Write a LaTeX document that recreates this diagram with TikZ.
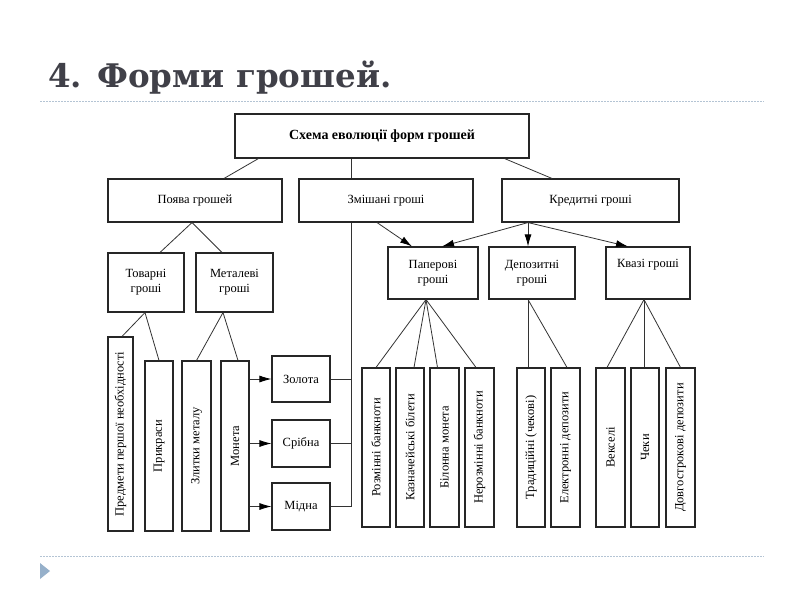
\documentclass[tikz,border=0pt]{standalone}
\usepackage{fontspec}
\setmainfont{Liberation Serif}
\newfontfamily\titlefont{DejaVu Serif}
\usepackage{tikz}
\usetikzlibrary{arrows.meta}
\definecolor{titlegray}{RGB}{64,64,72}
\definecolor{rulecolor}{RGB}{180,196,212}
\definecolor{bulletcolor}{RGB}{150,176,202}
\newcommand{\vlabel}[1]{\rotatebox{90}{#1}}
\tikzset{
  box/.style={draw=black!85, line width=1.1pt, fill=white, inner sep=1pt, align=center,
    font=\fontsize{12.5}{15}\selectfont},
  vbox/.style={box, minimum height=159pt},
  link/.style={draw=black!80, line width=0.8pt},
  arr/.style={link, -{Latex[length=12pt,width=7pt,black]}}
}

\begin{document}
\begin{tikzpicture}[x=1pt, y=-1pt]
    \fill[white] (0,0) rectangle (800,600);
    \useasboundingbox (0,0) rectangle (800,600);
    % slide title and rules
    \node[anchor=base west, inner sep=0pt, text=titlegray,
      font=\titlefont\bfseries\fontsize{32.5}{38}\selectfont] (title) at (48,87) {4. Форми грошей.};
    \draw[rulecolor, line width=1pt, dash pattern=on 1.5pt off 1.5pt] (40,101) -- (764,101);
    \draw[rulecolor, line width=1pt, dash pattern=on 1.5pt off 1.5pt] (40,556) -- (764,556);
    \fill[bulletcolor] (40,563) -- (50,571) -- (40,579) -- cycle;

    % upper levels
    \node[box, font=\bfseries\fontsize{14}{16}\selectfont, minimum width=294pt, minimum height=44pt] (schema) at (382,136) {Схема еволюції форм грошей};
    \node[box, minimum width=174pt, minimum height=43pt] (pojava) at (195,200.5) {Поява грошей};
    \node[box, minimum width=174pt, minimum height=43pt] (zmish) at (386,200.5) {Змішані гроші};
    \node[box, minimum width=177pt, minimum height=43pt] (kred) at (590.5,200.5) {Кредитні гроші};
    \node[box, minimum width=76pt, minimum height=59pt] (tovarni) at (146,282.5) {Товарні\\гроші};
    \node[box, minimum width=77pt, minimum height=59pt] (metalevi) at (234.5,282.5) {Металеві\\гроші};
    \node[box, minimum width=90pt, minimum height=52pt] (paperovi) at (433,273) {Паперові\\гроші};
    \node[box, minimum width=86pt, minimum height=52pt] (depozytni) at (532,273) {Депозитні\\гроші};
    \node[box, minimum width=84pt, minimum height=52pt] (kvazi) at (648,273) {Квазі гроші\\\strut};

    % left branch
    \node[box, minimum width=25pt, minimum height=194pt] (predmety) at (120.5,434) {\vlabel{Предмети першої необхідності}};
    \node[box, minimum width=28pt, minimum height=170pt] (prykrasy) at (159,446) {\vlabel{Прикраси}};
    \node[box, minimum width=29pt, minimum height=170pt] (zlytky) at (196.5,446) {\vlabel{Злитки металу}};
    \node[box, minimum width=28pt, minimum height=170pt] (moneta) at (235,446) {\vlabel{Монета}};
    \node[box, minimum width=58pt, minimum height=46pt] (zolota) at (301,379) {Золота};
    \node[box, minimum width=58pt, minimum height=47pt] (sribna) at (301,443.5) {Срібна};
    \node[box, minimum width=58pt, minimum height=47pt] (midna) at (301,506.5) {Мідна};

    % right branch
    \node[vbox, minimum width=28pt] (rozminni) at (376,447.5) {\vlabel{Розмінні банкноти}};
    \node[vbox, minimum width=28pt] (kazna) at (410,447.5) {\vlabel{Казначейські білети}};
    \node[vbox, minimum width=29pt] (bilonna) at (444.5,447.5) {\vlabel{Білонна монета}};
    \node[vbox, minimum width=29pt] (nerozminni) at (479.5,447.5) {\vlabel{Нерозмінні банкноти}};
    \node[vbox, minimum width=28pt] (tradycijni) at (531,447.5) {\vlabel{Традиційні (чекові)}};
    \node[vbox, minimum width=29pt] (elektronni) at (565.5,447.5) {\vlabel{Електронні депозити}};
    \node[vbox, minimum width=29pt] (veksel) at (610.5,447.5) {\vlabel{Векселі}};
    \node[vbox, minimum width=28pt] (cheky) at (645,447.5) {\vlabel{Чеки}};
    \node[vbox, minimum width=29pt] (dovgo) at (680.5,447.5) {\vlabel{Довгострокові депозити}};

    % connectors
    \draw[link] ([xshift=24pt]schema.south west) -- ([xshift=29pt]pojava.north);
    \draw[link] ([xshift=-31pt]schema.south) -- ([xshift=-35pt]zmish.north);
    \draw[link] ([xshift=-25pt]schema.south east) -- ([xshift=-38.5pt]kred.north);
    \draw[link] ([xshift=-3pt]pojava.south) -- ([xshift=14pt]tovarni.north);
    \draw[link] ([xshift=-3pt]pojava.south) -- ([xshift=-12.5pt]metalevi.north);
    \draw[link] ([xshift=-1pt]tovarni.south) -- ([xshift=1.5pt]predmety.north);
    \draw[link] ([xshift=-1pt]tovarni.south) -- (prykrasy.north);
    \draw[link] ([xshift=-11.5pt]metalevi.south) -- (zlytky.north);
    \draw[link] ([xshift=-11.5pt]metalevi.south) -- ([xshift=3pt]moneta.north);
    \draw[arr] (moneta.east |- zolota.west) -- (zolota.west);
    \draw[arr] (moneta.east |- sribna.west) -- (sribna.west);
    \draw[arr] (moneta.east |- midna.west) -- (midna.west);
    \coordinate (zjoint) at (351,506.5);
    \draw[link] ([xshift=-35pt]zmish.south) |- (midna.east);
    \draw[link] (zolota.east) -- (zolota.east -| zjoint);
    \draw[link] (sribna.east) -- (sribna.east -| zjoint);
    \draw[arr] ([xshift=-9pt]zmish.south) -- ([xshift=-21pt]paperovi.north);
    \draw[arr] ([xshift=-62.5pt]kred.south) -- ([xshift=9pt]paperovi.north);
    \draw[arr] ([xshift=-62.5pt]kred.south) -- ([xshift=-4pt]depozytni.north);
    \draw[arr] ([xshift=-62.5pt]kred.south) -- ([xshift=-20pt]kvazi.north);
    \draw[link] ([xshift=-7pt]paperovi.south) -- (rozminni.north);
    \draw[link] ([xshift=-7pt]paperovi.south) -- ([xshift=4pt]kazna.north);
    \draw[link] ([xshift=-7pt]paperovi.south) -- ([xshift=-7pt]bilonna.north);
    \draw[link] ([xshift=-7pt]paperovi.south) -- ([xshift=-3.5pt]nerozminni.north);
    \draw[link] ([xshift=-4pt]depozytni.south) -- ([xshift=-3pt]tradycijni.north);
    \draw[link] ([xshift=-4pt]depozytni.south) -- ([xshift=1.5pt]elektronni.north);
    \draw[link] ([xshift=-4pt]kvazi.south) -- ([xshift=-3.5pt]veksel.north);
    \draw[link] ([xshift=-4pt]kvazi.south) -- ([xshift=-1pt]cheky.north);
    \draw[link] ([xshift=-4pt]kvazi.south) -- (dovgo.north);
\end{tikzpicture}
\end{document}
